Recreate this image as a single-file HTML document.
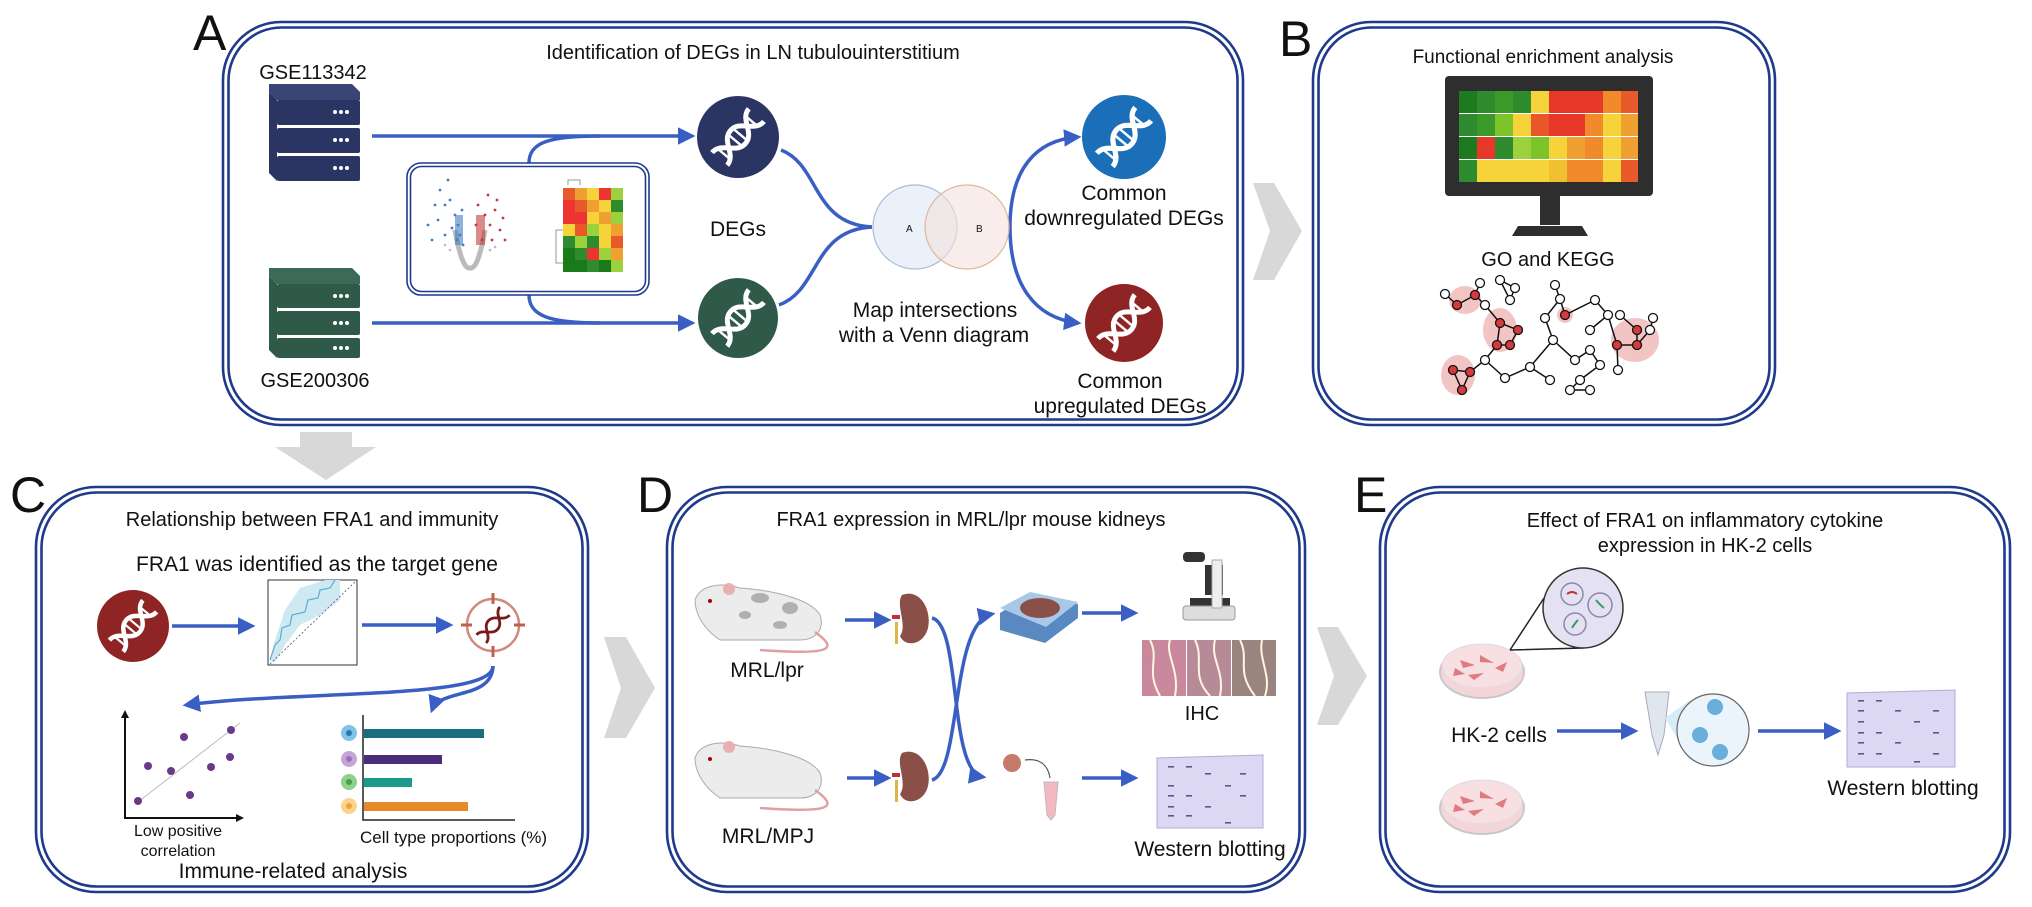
<!DOCTYPE html>
<html><head><meta charset="utf-8"><style>
html,body{margin:0;padding:0;background:#fff;}
svg{display:block;}
text{font-family:"Liberation Sans",Arial,sans-serif;fill:#111;}
</style></head><body>
<svg width="2032" height="907" viewBox="0 0 2032 907" xmlns="http://www.w3.org/2000/svg">
<defs>
<marker id="ah" viewBox="0 0 10 10" refX="8" refY="5" markerWidth="5" markerHeight="5" orient="auto"><path d="M0,0 L10,5 L0,10 z" fill="#3a5fc4"/></marker>
<g id="dna">
 <g transform="rotate(-50)" fill="none" stroke="#fff">
  <path d="M-26,-9 C-13,-9 -13,9 0,9 C13,9 13,-9 26,-9" stroke-width="4.5"/>
  <path d="M-26,9 C-13,9 -13,-9 0,-9 C13,-9 13,9 26,9" stroke-width="4.5"/>
  <g stroke-width="2.2"><line x1="-20" y1="-7" x2="-20" y2="7"/><line x1="-4" y1="-7" x2="-4" y2="7"/><line x1="3" y1="-7" x2="3" y2="7"/><line x1="19" y1="-7" x2="19" y2="7"/></g>
 </g>
</g>
<g id="server">
 <path d="M0,0 L8,-10 L90,-10 L90,86 L8,86 L0,76 Z" />
</g>
</defs>
<g fill="none" stroke="#1f3a8c" stroke-width="2.6">
 <rect x="223" y="22" width="1020" height="403" rx="58"/><rect x="228.5" y="27.5" width="1009" height="392" rx="53"/>
 <rect x="1313" y="22" width="462" height="403" rx="58"/><rect x="1318.5" y="27.5" width="451" height="392" rx="53"/>
 <rect x="36" y="487" width="552" height="405" rx="60"/><rect x="41.5" y="492.5" width="541" height="394" rx="55"/>
 <rect x="667" y="487" width="638" height="405" rx="60"/><rect x="672.5" y="492.5" width="627" height="394" rx="55"/>
 <rect x="1380" y="487" width="630" height="405" rx="60"/><rect x="1385.5" y="492.5" width="619" height="394" rx="55"/>
</g>
<!-- chevrons -->
<g fill="#d8d8d8">
 <polygon points="1253,183 1274,183 1302,231 1274,280 1253,280 1270,231"/>
 <polygon points="604,637 626,637 655,688 626,738 604,738 621,688"/>
 <polygon points="1317,627 1338,627 1367,676 1338,725 1317,725 1334,676"/>
 <polygon points="300,432 352,432 352,447 376,447 326,480 275,447 300,447"/>
</g>
<!-- labels -->
<g font-size="50">
 <text x="193" y="50">A</text><text x="1279" y="56">B</text>
 <text x="10" y="512">C</text><text x="637" y="512">D</text><text x="1354" y="512">E</text>
</g>
<!-- ===== A ===== -->
<text x="753" y="59" font-size="20" text-anchor="middle">Identification of DEGs in LN tubulouinterstitium</text>
<text x="313" y="79" font-size="20" text-anchor="middle">GSE113342</text>
<text x="315" y="387" font-size="20" text-anchor="middle">GSE200306</text>
<!-- servers -->
<g>
 <g fill="#2b3563">
  <path d="M269,92 L277,100 L360,100 L360,92 L352,84 L269,84Z" fill="#3a4475"/>
  <rect x="277" y="100" width="83" height="25" rx="2"/><rect x="277" y="128" width="83" height="25" rx="2"/><rect x="277" y="156" width="83" height="25" rx="2"/>
  <polygon points="269,92 277,100 277,181 269,173"/>
 </g>
 <g fill="#2f5a4a">
  <path d="M269,276 L277,284 L360,284 L360,276 L352,268 L269,268Z" fill="#3c6a58"/>
  <rect x="277" y="284" width="83" height="24" rx="2"/><rect x="277" y="311" width="83" height="24" rx="2"/><rect x="277" y="338" width="83" height="20" rx="2"/>
  <polygon points="269,276 277,284 277,358 269,350"/>
 </g>
 <g fill="#fff">
  <circle cx="335" cy="112" r="2"/><circle cx="341" cy="112" r="2"/><circle cx="347" cy="112" r="2"/>
  <circle cx="335" cy="140" r="2"/><circle cx="341" cy="140" r="2"/><circle cx="347" cy="140" r="2"/>
  <circle cx="335" cy="168" r="2"/><circle cx="341" cy="168" r="2"/><circle cx="347" cy="168" r="2"/>
  <circle cx="335" cy="296" r="2"/><circle cx="341" cy="296" r="2"/><circle cx="347" cy="296" r="2"/>
  <circle cx="335" cy="323" r="2"/><circle cx="341" cy="323" r="2"/><circle cx="347" cy="323" r="2"/>
  <circle cx="335" cy="348" r="2"/><circle cx="341" cy="348" r="2"/><circle cx="347" cy="348" r="2"/>
 </g>
</g>
<!-- arrows A -->
<g fill="none" stroke="#3a5fc4" stroke-width="3.5">
 <line x1="372" y1="136" x2="692" y2="136" marker-end="url(#ah)"/>
 <line x1="372" y1="323" x2="692" y2="323" marker-end="url(#ah)"/>
 <path d="M529,163 C529,142 550,136 600,136"/>
 <path d="M529,295 C529,316 550,323 600,323"/>
 <path d="M781,150 C820,165 812,224 872,227"/>
 <path d="M779,305 C820,290 812,230 872,227"/>
 <path d="M1010,227 C1010,170 1035,140 1078,137" marker-end="url(#ah)"/>
 <path d="M1010,227 C1010,285 1035,318 1078,323" marker-end="url(#ah)"/>
</g>
<!-- inner box -->
<g fill="none" stroke="#1f3a8c" stroke-width="1.6">
 <rect x="407" y="163" width="242" height="132" rx="14"/><rect x="410.5" y="166.5" width="235" height="125" rx="11"/>
</g>
<!-- volcano -->
<g>
 <path d="M455,230 Q462,270 470,268 Q478,270 485,230" fill="none" stroke="#bbb" stroke-width="5"/>
 <g fill="#3f7ec4">
  <circle cx="440" cy="190" r="1.4"/><circle cx="445" cy="205" r="1.4"/><circle cx="438" cy="220" r="1.4"/><circle cx="450" cy="200" r="1.4"/><circle cx="455" cy="215" r="1.4"/><circle cx="458" cy="225" r="1.4"/><circle cx="460" cy="235" r="1.4"/><circle cx="452" cy="228" r="1.4"/><circle cx="445" cy="235" r="1.4"/><circle cx="432" cy="240" r="1.4"/><circle cx="462" cy="210" r="1.4"/><circle cx="448" cy="180" r="1.4"/><circle cx="435" cy="205" r="1.4"/><circle cx="463" cy="245" r="1.4"/><circle cx="457" cy="240" r="1.4"/><circle cx="428" cy="225" r="1.4"/>
  <rect x="455" y="215" width="8" height="30" opacity="0.6"/>
 </g>
 <g fill="#c33a3a">
  <circle cx="478" cy="205" r="1.4"/><circle cx="485" cy="215" r="1.4"/><circle cx="490" cy="225" r="1.4"/><circle cx="495" cy="210" r="1.4"/><circle cx="500" cy="230" r="1.4"/><circle cx="482" cy="240" r="1.4"/><circle cx="488" cy="195" r="1.4"/><circle cx="503" cy="218" r="1.4"/><circle cx="492" cy="240" r="1.4"/><circle cx="476" cy="225" r="1.4"/><circle cx="505" cy="240" r="1.4"/><circle cx="497" cy="200" r="1.4"/>
  <rect x="476" y="215" width="9" height="30" opacity="0.6"/>
 </g>
 <g fill="#bbb"><circle cx="450" cy="250" r="1.3"/><circle cx="490" cy="250" r="1.3"/><circle cx="445" cy="245" r="1.3"/><circle cx="495" cy="247" r="1.3"/></g>
</g>
<!-- small heatmap -->
<g>
 <path d="M563,230 L556,230 L556,263 L563,263 M568,185 L568,180 L580,180 L580,185" fill="none" stroke="#999" stroke-width="1"/>
 <g>
  <rect x="563" y="188" width="12" height="12" fill="#e85a2a"/><rect x="575" y="188" width="12" height="12" fill="#f0a030"/><rect x="587" y="188" width="12" height="12" fill="#f6d33a"/><rect x="599" y="188" width="12" height="12" fill="#e33"/><rect x="611" y="188" width="12" height="12" fill="#9bd13a"/>
  <rect x="563" y="200" width="12" height="12" fill="#e33"/><rect x="575" y="200" width="12" height="12" fill="#e85a2a"/><rect x="587" y="200" width="12" height="12" fill="#f0a030"/><rect x="599" y="200" width="12" height="12" fill="#f6d33a"/><rect x="611" y="200" width="12" height="12" fill="#2e8b2e"/>
  <rect x="563" y="212" width="12" height="12" fill="#e33"/><rect x="575" y="212" width="12" height="12" fill="#e33"/><rect x="587" y="212" width="12" height="12" fill="#f6d33a"/><rect x="599" y="212" width="12" height="12" fill="#f0a030"/><rect x="611" y="212" width="12" height="12" fill="#9bd13a"/>
  <rect x="563" y="224" width="12" height="12" fill="#f6d33a"/><rect x="575" y="224" width="12" height="12" fill="#e85a2a"/><rect x="587" y="224" width="12" height="12" fill="#9bd13a"/><rect x="599" y="224" width="12" height="12" fill="#f6d33a"/><rect x="611" y="224" width="12" height="12" fill="#f0a030"/>
  <rect x="563" y="236" width="12" height="12" fill="#2e8b2e"/><rect x="575" y="236" width="12" height="12" fill="#9bd13a"/><rect x="587" y="236" width="12" height="12" fill="#2e8b2e"/><rect x="599" y="236" width="12" height="12" fill="#f6d33a"/><rect x="611" y="236" width="12" height="12" fill="#e85a2a"/>
  <rect x="563" y="248" width="12" height="12" fill="#1a7a1a"/><rect x="575" y="248" width="12" height="12" fill="#2e8b2e"/><rect x="587" y="248" width="12" height="12" fill="#e33"/><rect x="599" y="248" width="12" height="12" fill="#9bd13a"/><rect x="611" y="248" width="12" height="12" fill="#f0a030"/>
  <rect x="563" y="260" width="12" height="12" fill="#1a7a1a"/><rect x="575" y="260" width="12" height="12" fill="#1a7a1a"/><rect x="587" y="260" width="12" height="12" fill="#2e8b2e"/><rect x="599" y="260" width="12" height="12" fill="#1a7a1a"/><rect x="611" y="260" width="12" height="12" fill="#9bd13a"/>
 </g>
</g>
<!-- DNA circles A -->
<circle cx="738" cy="137" r="41" fill="#2b3563"/><use href="#dna" transform="translate(738,137) scale(1.1)"/>
<circle cx="738" cy="318" r="40" fill="#2f5a4a"/><use href="#dna" transform="translate(738,318) scale(1.1)"/>
<text x="738" y="236" font-size="21" text-anchor="middle">DEGs</text>
<!-- Venn -->
<circle cx="915" cy="227" r="42" fill="#e6eef7" fill-opacity="0.8" stroke="#a9bdd6" stroke-width="1.2"/>
<circle cx="967" cy="227" r="42" fill="#f3e1dc" fill-opacity="0.6" stroke="#e0b89a" stroke-width="1.2"/>
<text x="906" y="232" font-size="10" fill="#4a8a6a">A</text><text x="976" y="232" font-size="10" fill="#e08a3a">B</text>
<text x="935" y="317" font-size="21" text-anchor="middle">Map intersections</text>
<text x="934" y="342" font-size="21" text-anchor="middle">with a Venn diagram</text>
<circle cx="1124" cy="137" r="42" fill="#1b6fb8"/><use href="#dna" transform="translate(1124,137) scale(1.15)"/>
<circle cx="1124" cy="323" r="39" fill="#8f2424"/><use href="#dna" transform="translate(1124,323) scale(1.1)"/>
<text x="1124" y="200" font-size="21" text-anchor="middle">Common</text>
<text x="1124" y="225" font-size="21" text-anchor="middle">downregulated DEGs</text>
<text x="1120" y="388" font-size="21" text-anchor="middle">Common</text>
<text x="1120" y="413" font-size="21" text-anchor="middle">upregulated DEGs</text>
<!-- ===== B ===== -->
<text x="1543" y="63" font-size="19" text-anchor="middle">Functional enrichment analysis</text>
<rect x="1445" y="76" width="208" height="120" rx="4" fill="#2e2e2e"/>
<rect x="1540" y="196" width="20" height="29" fill="#2e2e2e"/>
<path d="M1512,236 L1518,226 L1582,226 L1588,236 Z" fill="#2e2e2e"/>
<g id="hm">
 <rect x="1459" y="91" width="179" height="91" fill="#fff"/>
</g>
<g>
 <g transform="translate(1459,91)">
  <rect x="0" y="0" width="18" height="22" fill="#1e7a1e"/><rect x="18" y="0" width="18" height="22" fill="#2e8b2e"/><rect x="36" y="0" width="18" height="22" fill="#3a9a2a"/><rect x="54" y="0" width="18" height="22" fill="#2e8b2e"/><rect x="72" y="0" width="18" height="22" fill="#f6d33a"/><rect x="90" y="0" width="18" height="22" fill="#e8382a"/><rect x="108" y="0" width="18" height="22" fill="#e8382a"/><rect x="126" y="0" width="18" height="22" fill="#e8382a"/><rect x="144" y="0" width="18" height="22" fill="#f08a2a"/><rect x="162" y="0" width="17" height="22" fill="#e85a2a"/>
  <rect x="0" y="23" width="18" height="22" fill="#2e8b2e"/><rect x="18" y="23" width="18" height="22" fill="#3a9a2a"/><rect x="36" y="23" width="18" height="22" fill="#7cc42a"/><rect x="54" y="23" width="18" height="22" fill="#f6d33a"/><rect x="72" y="23" width="18" height="22" fill="#e8562a"/><rect x="90" y="23" width="18" height="22" fill="#e8382a"/><rect x="108" y="23" width="18" height="22" fill="#e8382a"/><rect x="126" y="23" width="18" height="22" fill="#f08a2a"/><rect x="144" y="23" width="18" height="22" fill="#f6d33a"/><rect x="162" y="23" width="17" height="22" fill="#f0a030"/>
  <rect x="0" y="46" width="18" height="22" fill="#1e7a1e"/><rect x="18" y="46" width="18" height="22" fill="#e8382a"/><rect x="36" y="46" width="18" height="22" fill="#2e8b2e"/><rect x="54" y="46" width="18" height="22" fill="#9bd13a"/><rect x="72" y="46" width="18" height="22" fill="#7cc42a"/><rect x="90" y="46" width="18" height="22" fill="#f6d33a"/><rect x="108" y="46" width="18" height="22" fill="#f0a030"/><rect x="126" y="46" width="18" height="22" fill="#f08a2a"/><rect x="144" y="46" width="18" height="22" fill="#f6d33a"/><rect x="162" y="46" width="17" height="22" fill="#f0a030"/>
  <rect x="0" y="69" width="18" height="22" fill="#2e8b2e"/><rect x="18" y="69" width="18" height="22" fill="#f6d33a"/><rect x="36" y="69" width="18" height="22" fill="#f6d33a"/><rect x="54" y="69" width="18" height="22" fill="#f6d33a"/><rect x="72" y="69" width="18" height="22" fill="#f6d33a"/><rect x="90" y="69" width="18" height="22" fill="#f0c030"/><rect x="108" y="69" width="18" height="22" fill="#f08a2a"/><rect x="126" y="69" width="18" height="22" fill="#f08a2a"/><rect x="144" y="69" width="18" height="22" fill="#f6d33a"/><rect x="162" y="69" width="17" height="22" fill="#e85a2a"/>
 </g>
</g>
<text x="1548" y="266" font-size="20" text-anchor="middle">GO and KEGG</text>
<!-- network -->
<g>
 <g fill="#f2c4c4"><ellipse cx="1465" cy="300" rx="16" ry="14"/><ellipse cx="1500" cy="330" rx="17" ry="22"/><ellipse cx="1458" cy="375" rx="17" ry="20"/><ellipse cx="1635" cy="340" rx="24" ry="22"/><ellipse cx="1565" cy="315" rx="8" ry="8"/></g>
 <g stroke="#111" stroke-width="1.5" fill="none">
  <path d="M1445,294 L1457,305 L1475,295 L1480,283 M1475,295 L1485,305 L1500,323 L1518,330 L1510,345 L1497,345 L1500,323 M1497,345 L1485,360 L1470,372 L1453,370 L1462,390 L1470,372 M1485,360 L1505,378 L1530,367 L1553,340 L1545,318 L1560,299 L1555,285 M1553,340 L1575,360 L1590,350 L1600,365 L1580,380 L1570,390 L1590,390 M1560,299 L1565,315 L1595,300 L1608,315 L1617,345 L1637,345 L1650,330 L1653,318 M1617,345 L1618,370 M1637,345 L1637,330 L1620,315 M1530,367 L1550,380 M1500,280 L1515,288 L1510,300 L1500,280 M1608,315 L1590,330"/>
 </g>
 <g stroke="#111" stroke-width="1.3" fill="#fff">
  <circle cx="1445" cy="294" r="4.5"/><circle cx="1480" cy="283" r="4.5"/><circle cx="1485" cy="305" r="4.5"/><circle cx="1500" cy="280" r="4.5"/><circle cx="1515" cy="288" r="4.5"/><circle cx="1510" cy="300" r="4.5"/><circle cx="1485" cy="360" r="4.5"/><circle cx="1505" cy="378" r="4.5"/><circle cx="1530" cy="367" r="4.5"/><circle cx="1553" cy="340" r="4.5"/><circle cx="1545" cy="318" r="4.5"/><circle cx="1560" cy="299" r="4.5"/><circle cx="1555" cy="285" r="4.5"/><circle cx="1575" cy="360" r="4.5"/><circle cx="1590" cy="350" r="4.5"/><circle cx="1600" cy="365" r="4.5"/><circle cx="1580" cy="380" r="4.5"/><circle cx="1570" cy="390" r="4.5"/><circle cx="1590" cy="390" r="4.5"/><circle cx="1595" cy="300" r="4.5"/><circle cx="1608" cy="315" r="4.5"/><circle cx="1620" cy="315" r="4.5"/><circle cx="1650" cy="330" r="4.5"/><circle cx="1653" cy="318" r="4.5"/><circle cx="1618" cy="370" r="4.5"/><circle cx="1550" cy="380" r="4.5"/><circle cx="1590" cy="330" r="4.5"/>
 </g>
 <g stroke="#111" stroke-width="1.3" fill="#d63a3a">
  <circle cx="1457" cy="305" r="4.5"/><circle cx="1475" cy="295" r="4.5"/><circle cx="1500" cy="323" r="4.5"/><circle cx="1518" cy="330" r="4.5"/><circle cx="1510" cy="345" r="4.5"/><circle cx="1497" cy="345" r="4.5"/><circle cx="1470" cy="372" r="4.5"/><circle cx="1453" cy="370" r="4.5"/><circle cx="1462" cy="390" r="4.5"/><circle cx="1565" cy="315" r="4.5"/><circle cx="1617" cy="345" r="4.5"/><circle cx="1637" cy="345" r="4.5"/><circle cx="1637" cy="330" r="4.5"/>
 </g>
</g>
<!-- ===== C ===== -->
<text x="312" y="526" font-size="20" text-anchor="middle">Relationship between FRA1 and immunity</text>
<text x="317" y="571" font-size="21" text-anchor="middle">FRA1 was identified as the target gene</text>
<circle cx="133" cy="626" r="36" fill="#8f2424"/><use href="#dna" transform="translate(133,626)"/>
<g stroke="#3a5fc4" stroke-width="3.5" fill="none">
 <line x1="172" y1="626" x2="252" y2="626" marker-end="url(#ah)"/>
 <line x1="362" y1="625" x2="450" y2="625" marker-end="url(#ah)"/>
 <path d="M493,666 C493,700 300,690 186,705" marker-end="url(#ah)"/>
 <path d="M493,666 C492,700 440,688 432,710" marker-end="url(#ah)"/>
</g>
<!-- ROC -->
<rect x="268" y="580" width="89" height="85" fill="#fff" stroke="#333" stroke-width="1"/>
<path d="M270,660 L275,640 L285,610 L300,588 L325,580 L340,580 L340,600 L320,615 L300,625 L285,645 L275,662 Z" fill="#cfe9f3"/>
<path d="M270,660 L275,645 L280,640 L282,628 L290,625 L292,615 L305,612 L308,600 L318,598 L320,590 L330,588 L335,580" fill="none" stroke="#5aaed0" stroke-width="1.2"/>
<line x1="270" y1="664" x2="356" y2="581" stroke="#555" stroke-dasharray="2,2" stroke-width="0.8"/>
<!-- target -->
<g>
 <circle cx="493" cy="625" r="26" fill="none" stroke="#d08a7a" stroke-width="2.5"/>
 <g stroke="#c06050" stroke-width="3"><line x1="493" y1="593" x2="493" y2="604"/><line x1="493" y1="646" x2="493" y2="657"/><line x1="461" y1="625" x2="472" y2="625"/><line x1="514" y1="625" x2="525" y2="625"/></g>
 <g transform="translate(493,625) scale(0.7)"><g transform="rotate(-50)" fill="none" stroke="#7a1a1a" stroke-width="4"><path d="M-26,-9 C-13,-9 -13,9 0,9 C13,9 13,-9 26,-9"/><path d="M-26,9 C-13,9 -13,-9 0,-9 C13,-9 13,9 26,9"/></g></g>
</g>
<!-- scatter -->
<g stroke="#111" stroke-width="2" fill="none"><path d="M125,715 L125,818 L240,818"/></g>
<polygon points="125,710 121,718 129,718" fill="#111"/><polygon points="244,818 236,814 236,822" fill="#111"/>
<line x1="138" y1="802" x2="240" y2="723" stroke="#bbb" stroke-width="1"/>
<g fill="#6a3a8a"><circle cx="138" cy="801" r="4"/><circle cx="184" cy="737" r="4"/><circle cx="231" cy="730" r="4"/><circle cx="148" cy="766" r="4"/><circle cx="171" cy="771" r="4"/><circle cx="211" cy="767" r="4"/><circle cx="230" cy="757" r="4"/><circle cx="190" cy="795" r="4"/></g>
<text x="178" y="836" font-size="16" text-anchor="middle">Low positive</text>
<text x="178" y="856" font-size="16" text-anchor="middle">correlation</text>
<text x="293" y="878" font-size="21" text-anchor="middle">Immune-related analysis</text>
<!-- bars -->
<path d="M363,715 L363,820 L515,820" stroke="#222" stroke-width="1.5" fill="none"/>
<rect x="364" y="729" width="120" height="9" fill="#1a6e7e"/>
<rect x="364" y="755" width="78" height="9" fill="#4a2d7a"/>
<rect x="364" y="778" width="48" height="9" fill="#1a9a8a"/>
<rect x="364" y="802" width="104" height="9" fill="#e88a2a"/>
<circle cx="349" cy="733" r="8" fill="#7fc4e6"/><circle cx="349" cy="733" r="3" fill="#2a7ab0"/>
<circle cx="349" cy="759" r="8" fill="#c6a4d8"/><circle cx="349" cy="759" r="3" fill="#9a70b8"/>
<circle cx="349" cy="782" r="8" fill="#8fd08a"/><circle cx="349" cy="782" r="3" fill="#4aa048"/>
<circle cx="349" cy="806" r="8" fill="#fad48a"/><circle cx="349" cy="806" r="3" fill="#f0a040"/>
<text x="360" y="843" font-size="17">Cell type proportions (%)</text>
<!-- ===== D ===== -->
<text x="971" y="526" font-size="20" text-anchor="middle">FRA1 expression in MRL/lpr mouse kidneys</text>
<g>
 <path d="M695,600 C700,585 720,582 740,588 C770,590 810,598 820,615 C825,630 815,640 800,640 L720,640 C705,630 695,615 695,600 Z" fill="#ececec" stroke="#aaa" stroke-width="1"/>
 <path d="M815,632 C840,650 830,655 760,650" fill="none" stroke="#e0a0a0" stroke-width="2.5"/>
 <g fill="#b0b0b0"><ellipse cx="760" cy="598" rx="9" ry="5"/><ellipse cx="790" cy="608" rx="8" ry="6"/><ellipse cx="780" cy="625" rx="7" ry="4"/><ellipse cx="745" cy="615" rx="6" ry="4"/></g>
 <circle cx="729" cy="589" r="6" fill="#e8b0b0"/><circle cx="710" cy="601" r="2" fill="#a00"/>
 <text x="767" y="677" font-size="21" text-anchor="middle">MRL/lpr</text>
 <path d="M695,758 C700,743 720,740 740,746 C770,748 810,756 820,773 C825,788 815,798 800,798 L720,798 C705,788 695,773 695,758 Z" fill="#ececec" stroke="#aaa" stroke-width="1"/>
 <path d="M815,790 C840,808 830,813 760,808" fill="none" stroke="#e0a0a0" stroke-width="2.5"/>
 <circle cx="729" cy="747" r="6" fill="#e8b0b0"/><circle cx="710" cy="759" r="2" fill="#a00"/>
 <text x="768" y="843" font-size="21" text-anchor="middle">MRL/MPJ</text>
</g>
<g fill="#8a5048">
 <path d="M902,595 C920,588 932,610 928,628 C924,645 905,648 900,636 C908,625 895,605 902,595Z"/>
 <path d="M902,753 C920,746 932,768 928,786 C924,803 905,806 900,794 C908,783 895,763 902,753Z"/>
</g>
<g fill="#d8b84a"><rect x="895" y="622" width="3" height="22"/><rect x="895" y="780" width="3" height="22"/></g>
<g fill="#c0303a"><rect x="892" y="615" width="8" height="4"/><rect x="892" y="773" width="8" height="4"/></g>
<g stroke="#3a5fc4" stroke-width="3.5" fill="none">
 <line x1="845" y1="620" x2="888" y2="620" marker-end="url(#ah)"/>
 <line x1="847" y1="778" x2="888" y2="778" marker-end="url(#ah)"/>
 <path d="M932,618 C962,625 948,772 983,777" marker-end="url(#ah)"/>
 <path d="M932,780 C962,772 950,622 992,614" marker-end="url(#ah)"/>
 <line x1="1082" y1="613" x2="1135" y2="613" marker-end="url(#ah)"/>
 <line x1="1082" y1="778" x2="1135" y2="778" marker-end="url(#ah)"/>
</g>
<!-- slide -->
<path d="M1000,613 L1030,594 L1078,604 L1078,618 L1045,643 L1000,630 Z" fill="#5a88c0"/>
<path d="M1000,608 L1030,592 L1078,602 L1046,627 Z" fill="#a8c8e8"/>
<ellipse cx="1040" cy="608" rx="20" ry="10" fill="#8a5048"/>
<!-- microscope -->
<g fill="#333"><rect x="1183" y="552" width="22" height="10" rx="4"/><rect x="1205" y="565" width="18" height="30"/><rect x="1190" y="598" width="40" height="8"/></g>
<rect x="1183" y="606" width="52" height="14" rx="3" fill="#ddd" stroke="#999"/>
<rect x="1212" y="560" width="10" height="48" fill="#eee" stroke="#aaa"/>
<!-- IHC -->
<rect x="1142" y="640" width="44" height="56" fill="#c9889c"/><rect x="1187" y="640" width="44" height="56" fill="#b78a98"/><rect x="1232" y="640" width="44" height="56" fill="#9a8480"/>
<g fill="none" stroke="#fff6e0" stroke-width="2"><path d="M1150,640 C1160,660 1145,670 1160,696 M1170,640 C1165,655 1180,670 1175,696 M1195,640 C1205,660 1190,675 1210,696 M1215,640 C1210,660 1225,670 1220,696 M1240,640 C1250,660 1235,670 1255,696 M1262,640 C1258,660 1272,675 1265,696"/></g>
<text x="1202" y="720" font-size="20" text-anchor="middle">IHC</text>
<!-- tissue & tube -->
<circle cx="1012" cy="763" r="9" fill="#c87a6a"/>
<path d="M1025,760 C1040,758 1048,765 1050,778" fill="none" stroke="#555" stroke-width="1.2"/>
<path d="M1044,782 L1058,782 L1055,815 L1051,820 L1047,815 Z" fill="#f4b8c0" stroke="#bbb"/>
<!-- western blot D -->
<g>
 <path d="M1157,758 L1263,755 L1263,828 L1157,828 Z" fill="#dcd8f4" stroke="#b0aad8"/>
 <g fill="#5a5a8a"><rect x="1168" y="766" width="6" height="1.6"/><rect x="1186" y="766" width="6" height="1.6"/><rect x="1205" y="773" width="6" height="1.6"/><rect x="1240" y="773" width="6" height="1.6"/><rect x="1168" y="785" width="6" height="1.6"/><rect x="1225" y="785" width="6" height="1.6"/><rect x="1168" y="795" width="6" height="1.6"/><rect x="1186" y="795" width="6" height="1.6"/><rect x="1240" y="795" width="6" height="1.6"/><rect x="1168" y="806" width="6" height="1.6"/><rect x="1205" y="806" width="6" height="1.6"/><rect x="1168" y="815" width="6" height="1.6"/><rect x="1186" y="815" width="6" height="1.6"/><rect x="1225" y="822" width="6" height="1.6"/></g>
</g>
<text x="1210" y="856" font-size="21" text-anchor="middle">Western blotting</text>
<!-- ===== E ===== -->
<text x="1705" y="527" font-size="20" text-anchor="middle">Effect of FRA1 on inflammatory cytokine</text>
<text x="1705" y="552" font-size="20" text-anchor="middle">expression in HK-2 cells</text>
<g>
 <ellipse cx="1482" cy="672" rx="42" ry="26" fill="#f4d6da" stroke="#c8c8c8" stroke-width="2"/>
 <ellipse cx="1482" cy="666" rx="40" ry="22" fill="#f7dfe2" stroke="#ddd"/>
 <g fill="#e07a82"><path d="M1460,660 l15,5 l-12,3z"/><path d="M1480,655 l14,8 l-14,-1z"/><path d="M1495,668 l12,-6 l-4,10z"/><path d="M1468,675 l16,-2 l-10,7z"/><path d="M1455,668 l10,6 l-12,2z"/></g>
 <ellipse cx="1482" cy="808" rx="42" ry="26" fill="#f4d6da" stroke="#c8c8c8" stroke-width="2"/>
 <ellipse cx="1482" cy="802" rx="40" ry="22" fill="#f7dfe2" stroke="#ddd"/>
 <g fill="#e07a82"><path d="M1460,796 l15,5 l-12,3z"/><path d="M1480,791 l14,8 l-14,-1z"/><path d="M1495,804 l12,-6 l-4,10z"/><path d="M1468,811 l16,-2 l-10,7z"/><path d="M1455,804 l10,6 l-12,2z"/></g>
 <path d="M1510,650 L1544,598 M1510,650 L1583,648" stroke="#222" stroke-width="1.5" fill="none"/>
 <circle cx="1583" cy="608" r="40" fill="#e4e2f2" stroke="#333" stroke-width="1.5"/>
 <g fill="none" stroke="#8a8aa8" stroke-width="1.5"><circle cx="1572" cy="594" r="11"/><circle cx="1600" cy="605" r="12"/><circle cx="1575" cy="624" r="11"/></g>
 <path d="M1567,594 q5,-4 10,0" stroke="#c03030" stroke-width="2" fill="none"/><path d="M1596,600 q4,5 8,8" stroke="#3a9a6a" stroke-width="2" fill="none"/><path d="M1572,628 q3,-5 6,-8" stroke="#3a9a6a" stroke-width="2" fill="none"/>
</g>
<text x="1499" y="742" font-size="21" text-anchor="middle">HK-2 cells</text>
<g stroke="#3a5fc4" stroke-width="3.5" fill="none">
 <line x1="1557" y1="731" x2="1635" y2="731" marker-end="url(#ah)"/>
 <line x1="1758" y1="731" x2="1838" y2="731" marker-end="url(#ah)"/>
</g>
<path d="M1645,692 L1669,692 L1664,735 L1658,755 L1652,735 Z" fill="#dfe6ee" stroke="#aab"/>
<path d="M1665,718 L1690,700 L1690,760 Z" fill="#d6ecf7"/>
<circle cx="1713" cy="730" r="36" fill="#eaf4fa" stroke="#666" stroke-width="1.2"/>
<g fill="#6aaedc"><circle cx="1715" cy="707" r="8"/><circle cx="1700" cy="735" r="8"/><circle cx="1720" cy="752" r="8"/></g>
<g>
 <path d="M1847,693 L1955,690 L1955,767 L1847,767 Z" fill="#dcd8f4" stroke="#b0aad8"/>
 <g fill="#5a5a8a"><rect x="1858" y="700" width="6" height="1.6"/><rect x="1876" y="700" width="6" height="1.6"/><rect x="1895" y="710" width="6" height="1.6"/><rect x="1933" y="710" width="6" height="1.6"/><rect x="1858" y="710" width="6" height="1.6"/><rect x="1914" y="721" width="6" height="1.6"/><rect x="1858" y="721" width="6" height="1.6"/><rect x="1858" y="732" width="6" height="1.6"/><rect x="1876" y="732" width="6" height="1.6"/><rect x="1933" y="732" width="6" height="1.6"/><rect x="1858" y="742" width="6" height="1.6"/><rect x="1895" y="742" width="6" height="1.6"/><rect x="1858" y="753" width="6" height="1.6"/><rect x="1876" y="753" width="6" height="1.6"/><rect x="1933" y="753" width="6" height="1.6"/><rect x="1914" y="761" width="6" height="1.6"/></g>
</g>
<text x="1903" y="795" font-size="21" text-anchor="middle">Western blotting</text>
</svg>
</body></html>
